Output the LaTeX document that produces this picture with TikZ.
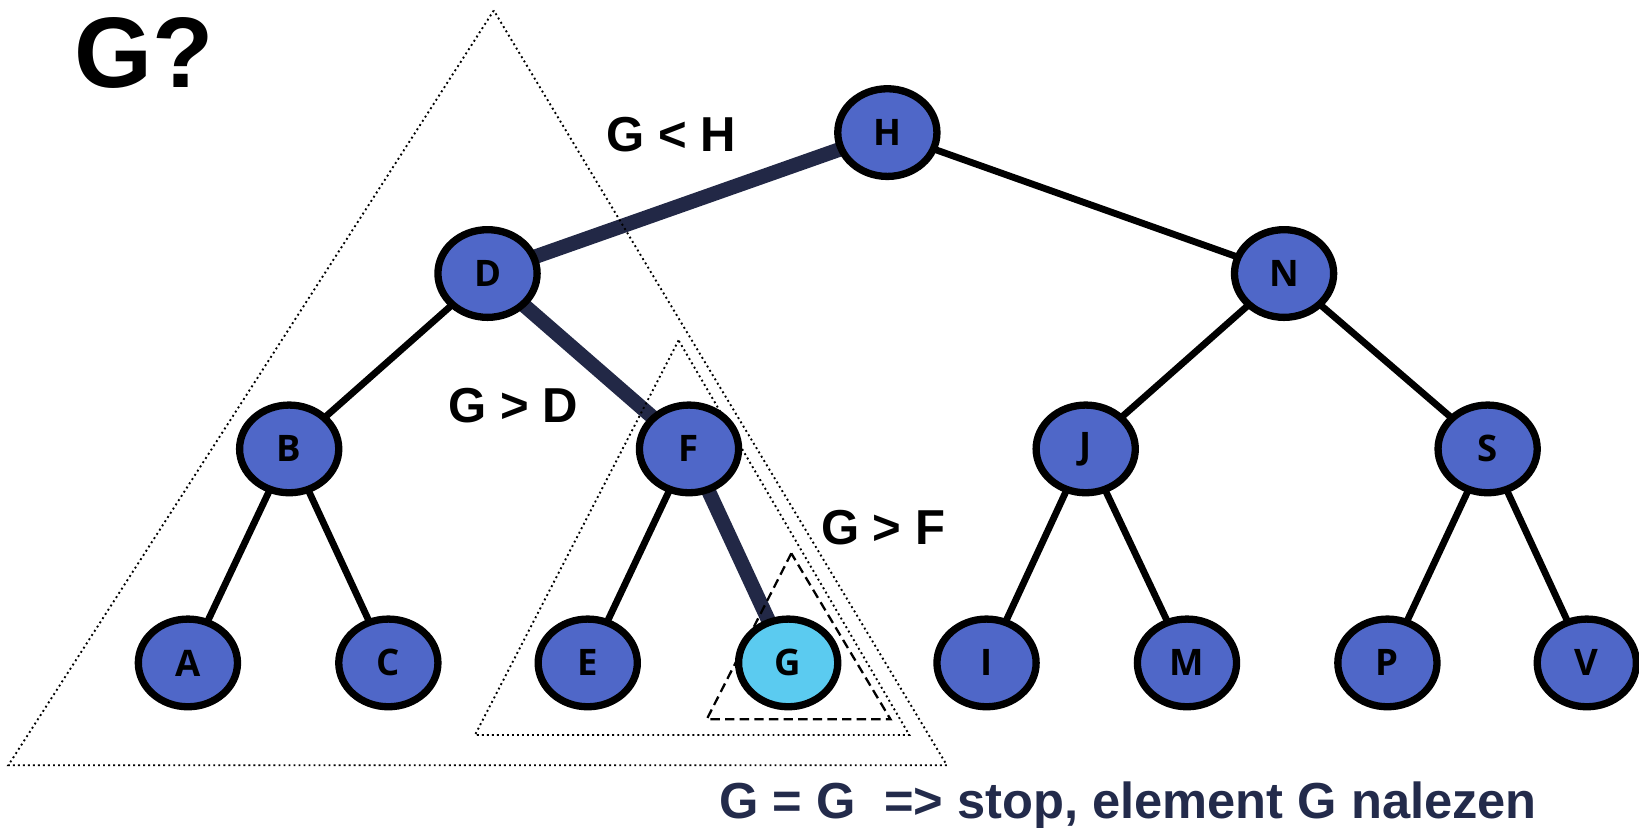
\documentclass[tikz,border=0pt]{standalone}
\usepackage{fontspec}
\setmainfont{Liberation Sans}
\newfontfamily\nodefont{Open Sans}
\usetikzlibrary{shapes.geometric}
\pgfdeclarelayer{bg}
\pgfsetlayers{bg,main}
\definecolor{nodeblue}{HTML}{4F67C8}
\definecolor{hitcyan}{HTML}{5BCBF0}
\definecolor{pathnavy}{HTML}{222846}
\definecolor{textnavy}{HTML}{232B4B}
\tikzset{
 tn/.style={ellipse, draw=black, line width=7pt, fill=nodeblue, minimum width=95pt, minimum height=84pt, inner sep=0pt, font=\nodefont\bfseries\fontsize{35}{35}\selectfont},
 found/.style={tn, fill=hitcyan},
 edgeline/.style={line width=6.5pt, black},
 hot/.style={line width=14pt, pathnavy},
 lbl/.style={font=\bfseries\fontsize{47}{47}\selectfont, inner sep=0pt},
 dots/.style={line width=1.8pt, dash pattern=on 1.8pt off 3pt},
 dsh/.style={line width=2.2pt, dash pattern=on 9pt off 5pt},
}
\begin{document}
\begin{tikzpicture}[x=1pt,y=-1pt]
\useasboundingbox (0,0) rectangle (1570,793);
% nodes
\node[tn] (H) at (850,127) {H};
\node[tn] (D) at (467,262) {D};
\node[tn] (N) at (1230,262) {N};
\node[tn] (B) at (277,430) {B};
\node[tn] (F) at (660,430) {F};
\node[tn] (J) at (1040,430) {J};
\node[tn] (S) at (1425,430) {S};
\node[tn] (A) at (180,635) {A};
\node[tn] (C) at (372,635) {C};
\node[tn] (E) at (563,635) {E};
\node[found] (G) at (755,635) {G};
\node[tn] (I) at (945,635) {I};
\node[tn] (M) at (1137,635) {M};
\node[tn] (P) at (1329,635) {P};
\node[tn] (V) at (1520,635) {V};
% triangle corners
\coordinate (t1a) at (473,10);
\coordinate (t1l) at (8,733);
\coordinate (t1r) at (907,733);
\coordinate (t2a) at (650,326);
\coordinate (t2l) at (455,704);
\coordinate (t2r) at (871,704);
\coordinate (t3a) at (758,530);
\coordinate (t3l) at (677,689);
\coordinate (t3r) at (853,689);
\begin{pgfonlayer}{bg}
\draw[hot] (H.center) -- (D.center);
\draw[hot] (D.center) -- (F.center);
\draw[hot] (F.center) -- (G.center);
\draw[edgeline] (H.center) -- (N.center);
\draw[edgeline] (D.center) -- (B.center);
\draw[edgeline] (N.center) -- (J.center);
\draw[edgeline] (N.center) -- (S.center);
\draw[edgeline] (B.center) -- (A.center);
\draw[edgeline] (B.center) -- (C.center);
\draw[edgeline] (F.center) -- (E.center);
\draw[edgeline] (J.center) -- (I.center);
\draw[edgeline] (J.center) -- (M.center);
\draw[edgeline] (S.center) -- (P.center);
\draw[edgeline] (S.center) -- (V.center);
\draw[dots] (t1a) -- (t1l) -- (t1r) -- cycle;
\draw[dots] (t2a) -- (t2l) -- (t2r) -- cycle;
\draw[dsh] (t3a) -- (t3l) -- (t3r) -- cycle;
\end{pgfonlayer}
% texts
\node[font=\bfseries\fontsize{96}{96}\selectfont, inner sep=0pt, anchor=base west] (q) at (71,84) {G?};
\node[lbl, anchor=base] (lh) at (643,145) {G < H};
\node[lbl, anchor=base] (ld) at (492,405) {G > D};
\node[lbl, anchor=base] (lf) at (846,522) {G > F};
\node[lbl, font=\bfseries\fontsize{48.5}{48.5}\selectfont, text=textnavy, anchor=base west] (res) at (689,784) {G = G\ \ => stop, element G nalezen};
\end{tikzpicture}
\end{document}
